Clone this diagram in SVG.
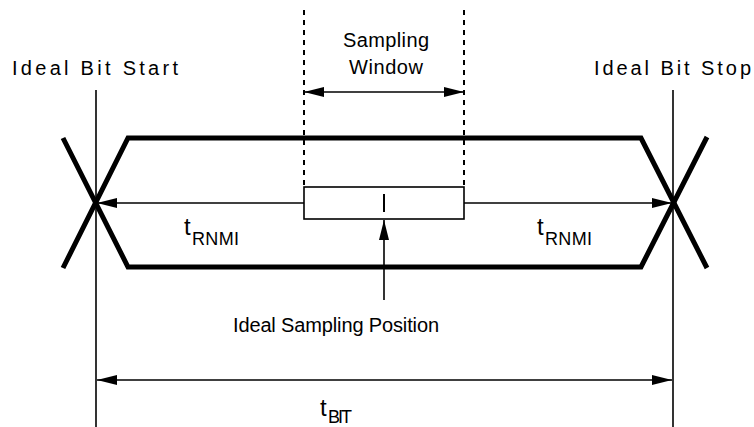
<svg xmlns="http://www.w3.org/2000/svg" width="754" height="427" viewBox="0 0 754 427">
  <style>
    .bg { fill: #ffffff; }
    .thin { stroke: #000; stroke-width: 1.6; fill: none; }
    .thick { stroke: #000; stroke-width: 5; fill: none; stroke-linejoin: miter; }
    .dash { stroke: #000; stroke-width: 2; stroke-dasharray: 5 5; fill: none; }
    .lbl { font-family: "Liberation Sans", Arial, sans-serif; font-size: 20px; fill: #000; }
    .t { font-family: "Liberation Sans", Arial, sans-serif; font-size: 24px; fill: #000; }
    .sub { font-family: "Liberation Sans", Arial, sans-serif; font-size: 18px; fill: #000; }
  </style>
  <defs>
    <marker id="arrow" viewBox="0 0 20 10" refX="20" refY="5" markerWidth="20" markerHeight="10" markerUnits="userSpaceOnUse" orient="auto-start-reverse">
      <path d="M0,0 L20,5 L0,10 Z" fill="#000"/>
    </marker>
  </defs>
  <rect class="bg" x="0" y="0" width="754" height="427"/>

  <!-- ideal bit boundaries -->
  <g id="bit-start">
    <line class="thin" x1="96" y1="90" x2="96" y2="427"/>
    <text class="lbl" x="12" y="75" textLength="166" lengthAdjust="spacing">Ideal Bit Start</text>
  </g>
  <g id="bit-stop">
    <line class="thin" x1="673" y1="90" x2="673" y2="427"/>
    <text class="lbl" x="594" y="75" textLength="157" lengthAdjust="spacing">Ideal Bit Stop</text>
  </g>

  <!-- data eye -->
  <g id="eye">
    <polyline class="thick" points="63,138 128,267 641,267 707,137"/>
    <polyline class="thick" points="63,268 128,138 641,138 707,268"/>
  </g>

  <!-- sampling window -->
  <g id="sampling-window">
    <line class="dash" x1="304" y1="10" x2="304" y2="187"/>
    <line class="dash" x1="464" y1="10" x2="464" y2="187"/>
    <text class="lbl" x="343" y="47" textLength="86" lengthAdjust="spacing">Sampling</text>
    <text class="lbl" x="349" y="74" textLength="74" lengthAdjust="spacing">Window</text>
  </g>

  <g id="sampling-box">
    <rect class="thin" x="304" y="187" width="160" height="32"/>
    <line class="thin" x1="384" y1="194" x2="384" y2="212" style="stroke-width:2"/>
  </g>

  <g id="ideal-sampling-position">
    <text class="lbl" x="233" y="332" textLength="206" lengthAdjust="spacing">Ideal Sampling Position</text>
  </g>

  <!-- timing labels -->
  <g id="trnmi-left">
    <text class="t" x="184" y="235">t</text>
    <text class="sub" x="192" y="245" textLength="47" lengthAdjust="spacing">RNMI</text>
  </g>
  <g id="trnmi-right">
    <text class="t" x="537" y="235">t</text>
    <text class="sub" x="545" y="245" textLength="47" lengthAdjust="spacing">RNMI</text>
  </g>
  <g id="tbit">
    <text class="t" x="320" y="416">t</text>
    <text class="sub" x="328" y="423" textLength="24" lengthAdjust="spacing">BIT</text>
  </g>

  <!-- connectors -->
  <g id="connectors">
    <line class="thin" x1="304" y1="92" x2="464" y2="92" marker-start="url(#arrow)" marker-end="url(#arrow)"/>
    <line class="thin" x1="304" y1="203" x2="97" y2="203" marker-end="url(#arrow)"/>
    <line class="thin" x1="464" y1="203" x2="672" y2="203" marker-end="url(#arrow)"/>
    <line class="thin" x1="384" y1="300" x2="384" y2="220" marker-end="url(#arrow)"/>
    <line class="thin" x1="97" y1="380" x2="672" y2="380" marker-start="url(#arrow)" marker-end="url(#arrow)"/>
  </g>
</svg>
